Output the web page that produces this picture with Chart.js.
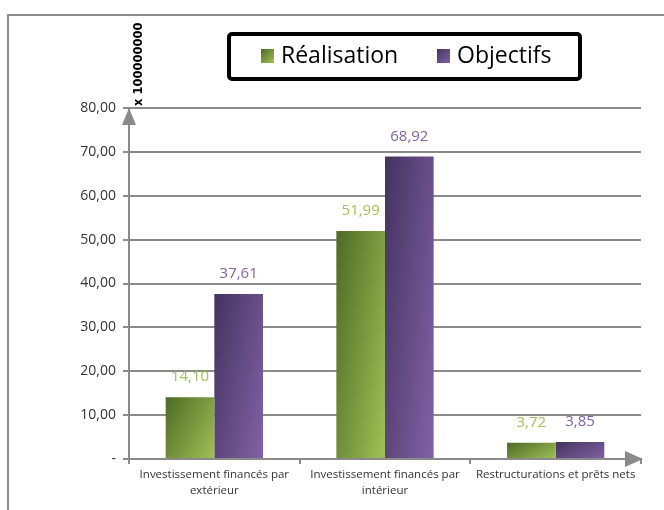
<!DOCTYPE html>
<html>
<head>
<meta charset="utf-8">
<script src="https://cdn.jsdelivr.net/npm/chart.js@4.4.1/dist/chart.umd.min.js"></script>
<style>
  html, body { margin: 0; padding: 0; background: #fff; }
  #chartBar { display: block; }
</style>
</head>
<body>
<canvas id="chartBar" width="664" height="510"></canvas>
<script>
// data
const categories = [
    ["Investissement financés par", "extérieur"],
    ["Investissement financés par", "intérieur"],
    "Restructurations et prêts nets",
];
const realisation = [14.10, 51.99, 3.72];
const objectifs = [37.61, 68.92, 3.85];
const seriesNames = ["Réalisation", "Objectifs"];
const yMin = 0;
const yMax = 80;
const yStep = 10;
const unitLabel = "x 100000000";

const catPct = 0.57;
const gridColor = "#8a8a8a";
const greenDark = "#4f6a24";
const greenLight = "#9fc156";
const purpleDark = "#43335f";
const purpleLight = "#8262a6";

function fmt(v) {
    return v.toFixed(2).replace(".", ",");
}

// diagonal gradient, top-left dark to bottom-right light, per bar
function barGradient(context, dark, light) {
    const chart = context.chart;
    const xs = chart.scales.x;
    const ys = chart.scales.y;
    if (!chart.chartArea || !xs || !ys || context.type !== "data") return light;
    const w = (xs.width / chart.data.labels.length) * catPct / 2;
    const cx = xs.getPixelForValue(context.dataIndex);
    const x0 = context.datasetIndex === 0 ? cx - w : cx;
    const y0 = ys.getPixelForValue(context.raw);
    const h = Math.max(ys.getPixelForValue(0) - y0, 1);
    const vx = 0.6 / w;
    const vy = 0.4 / h;
    const n = vx * vx + vy * vy;
    const g = chart.ctx.createLinearGradient(x0, y0, x0 + vx / n, y0 + vy / n);
    g.addColorStop(0, dark);
    g.addColorStop(1, light);
    return g;
}

const decorations = {
    id: "decorations",
    beforeDraw(chart) {
        const ctx = chart.ctx;
        ctx.save();
        ctx.fillStyle = "#fff";
        ctx.fillRect(0, 0, chart.width, chart.height);
        ctx.strokeStyle = "#8c8c8c";
        ctx.lineWidth = 2;
        ctx.strokeRect(8, 15, chart.width + 20, chart.height + 20);
        ctx.restore();
    },
    afterDraw(chart) {
        const ctx = chart.ctx;
        const area = chart.chartArea;
        ctx.save();
        // axis arrows
        ctx.fillStyle = gridColor;
        ctx.beginPath();
        ctx.moveTo(area.left, area.top);
        ctx.lineTo(area.left - 7, area.top + 17);
        ctx.lineTo(area.left + 7, area.top + 17);
        ctx.closePath();
        ctx.fill();
        ctx.beginPath();
        ctx.moveTo(area.right + 2, area.bottom);
        ctx.lineTo(area.right - 16, area.bottom - 8);
        ctx.lineTo(area.right - 16, area.bottom + 8);
        ctx.closePath();
        ctx.fill();

        // unit label
        ctx.translate(139, area.top - 2);
        ctx.rotate(-Math.PI / 2);
        ctx.fillStyle = "#000";
        ctx.font = "bold 11.5px 'DejaVu Sans'";
        ctx.textAlign = "left";
        ctx.textBaseline = "middle";
        ctx.fillText(unitLabel, 0, 0);
        ctx.restore();

        // legend box
        ctx.save();
        ctx.lineWidth = 4;
        ctx.strokeStyle = "#000";
        ctx.beginPath();
        ctx.roundRect(229, 34, 351, 45, 3);
        ctx.stroke();
        const sq = [[261, greenDark, greenLight], [437, purpleDark, purpleLight]];
        ctx.font = "23px 'Open Sans'";
        ctx.textBaseline = "middle";
        chart.data.datasets.forEach(function (ds, i) {
            const x = sq[i][0];
            const g = ctx.createLinearGradient(x, 49, x + 13, 63);
            g.addColorStop(0, sq[i][1]);
            g.addColorStop(1, sq[i][2]);
            ctx.fillStyle = g;
            ctx.fillRect(x, 49, 13, 14);
            ctx.fillStyle = "#000";
            ctx.fillText(ds.label, x + 20, 56);
        });
        ctx.restore();
    },
    afterDatasetsDraw(chart) {
        const ctx = chart.ctx;
        const colors = [greenLight, purpleLight];
        ctx.save();
        ctx.font = "15px 'Open Sans'";
        ctx.textAlign = "center";
        ctx.textBaseline = "middle";
        chart.data.datasets.forEach(function (ds, i) {
            ctx.fillStyle = colors[i];
            chart.getDatasetMeta(i).data.forEach(function (bar, j) {
                ctx.fillText(fmt(ds.data[j]), bar.x, bar.y - 20);
            });
        });
        ctx.restore();
    },
};

const chartBar = new Chart(document.getElementById("chartBar"), {
    type: "bar",
    data: {
        labels: categories,
        datasets: [
            {
                label: seriesNames[0],
                data: realisation,
                backgroundColor: function (c) { return barGradient(c, greenDark, greenLight); },
                borderWidth: 0,
            },
            {
                label: seriesNames[1],
                data: objectifs,
                backgroundColor: function (c) { return barGradient(c, purpleDark, purpleLight); },
                borderWidth: 0,
            },
        ],
    },
    options: {
        responsive: false,
        animation: false,
        devicePixelRatio: 1,
        layout: {
            padding: { top: 108, right: 23, left: 0, bottom: 0 },
        },
        datasets: {
            bar: { categoryPercentage: catPct, barPercentage: 1 },
        },
        plugins: {
            legend: { display: false },
            tooltip: { enabled: false },
        },
        scales: {
            x: {
                afterFit: function (scale) { scale.height = 51; },
                grid: {
                    color: gridColor,
                    lineWidth: 2,
                    drawOnChartArea: false,
                    tickLength: 5,
                },
                border: { color: gridColor, width: 2 },
                ticks: {
                    color: "#333",
                    padding: 3,
                    maxRotation: 0,
                    autoSkip: false,
                    font: { family: "'Open Sans'", size: 11.5, lineHeight: 1.35 },
                },
            },
            y: {
                min: yMin,
                max: yMax,
                afterFit: function (scale) { scale.width = 129; },
                grid: {
                    color: gridColor,
                    lineWidth: 2,
                    tickLength: 6,
                },
                border: { color: gridColor, width: 2 },
                ticks: {
                    stepSize: yStep,
                    color: "#333",
                    padding: 7,
                    font: { family: "'Open Sans'", size: 14 },
                    callback: function (v) { return v === 0 ? "-" : fmt(v); },
                },
            },
        },
    },
    plugins: [decorations],
});
</script>
</body>
</html>
